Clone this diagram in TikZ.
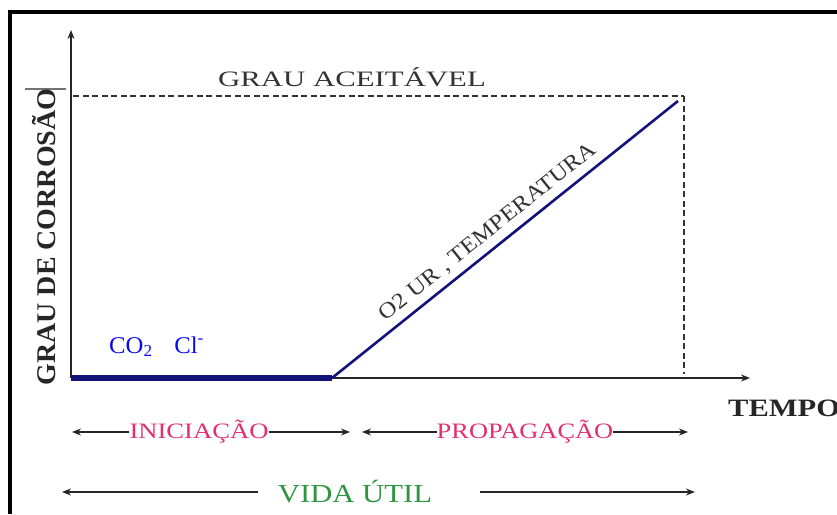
\documentclass[tikz,border=0pt]{standalone}
\usepackage{fontspec}
\setmainfont{Liberation Serif}
\usetikzlibrary{arrows.meta,positioning}
\definecolor{curvenavy}{HTML}{12127A}
\definecolor{agentblue}{HTML}{0A0AF0}
\definecolor{phasepink}{HTML}{E2306E}
\definecolor{lifegreen}{HTML}{2F9440}
\definecolor{labelgray}{HTML}{333333}
% the original lettering is set wide
\newcommand{\wide}[2]{\scalebox{#1}[1]{#2}}

\begin{document}
\begin{tikzpicture}[
  x=1pt, y=-1pt,
  >={Stealth[length=9pt, width=7pt]},
  frame/.style={line width=4pt, black},
  axis/.style={->, line width=2pt, black!85},
  limit/.style={dashed, dash pattern=on 6pt off 3.5pt, line width=1.1pt, black!80},
  slow/.style={line width=6pt, curvenavy},
  fast/.style={line width=2.6pt, curvenavy},
  span/.style={->, line width=1.4pt, black!85},
  axlbl/.style={font=\fontsize{27}{30}\selectfont\bfseries, text=black!85, inner sep=0pt},
  phase/.style={font=\fontsize{22}{24}\selectfont, inner sep=0pt},
  note/.style={font=\fontsize{22}{24}\selectfont, text=labelgray, inner sep=0pt},
]
\useasboundingbox (0,0) rectangle (837,514);

% ---- frame ----
\coordinate (fTR) at (837,12);
\coordinate (fTL) at (10,12);
\coordinate (fBL) at (10,514);
\draw[frame] (fTR) -- (fTL) -- (fBL);

% ---- axes ----
\coordinate (O)    at (71,378);
\coordinate (ytip) at (71,30);
\coordinate (xtip) at (750,378);
\draw[axis] (O) -- (ytip);
\draw[axis] (O) -- (xtip);

% ---- acceptable level ----
\coordinate (tickL) at (25,89);
\coordinate (tickR) at (66,89);
\draw[line width=1.2pt, black!55] (tickL) -- (tickR);
\coordinate (lim0)    at (73,96);
\coordinate (lim1)    at (684,96);
\coordinate (limfoot) at (684,374);
\draw[limit] (lim0) -- (lim1);
\draw[limit] (lim1) -- (limfoot);
\node[note] (aceit) at (352,77) {\wide{1.4}{GRAU ACEITÁVEL}};

% ---- corrosion curve ----
\coordinate (knee) at (332,378);
\coordinate (peak) at (678,101);
\draw[slow] (O) -- (knee);
\draw[fast] (knee) -- node[note, sloped, above=6pt, pos=0.48] (fatores)
      {\wide{1.13}{O2 UR , TEMPERATURA}} (peak);
\node[font=\fontsize{24}{26}\selectfont, text=agentblue, inner sep=0pt, anchor=base west]
      (agentes) at (109,353) {\wide{1.03}{CO\textsubscript{2}\hspace{21pt}Cl\textsuperscript{-}}};

% ---- axis labels ----
\node[axlbl, rotate=90] (ylab) at (44,237) {\wide{1.035}{GRAU DE CORROSÃO}};
\node[axlbl, anchor=west, font=\fontsize{25}{28}\selectfont\bfseries] (tempo) at (728,408)
      {\wide{1.22}{TEMPO}};

% ---- stages ----
\node[phase, text=phasepink] (inic) at (199,432) {\wide{1.21}{INICIAÇÃO}};
\node[phase, text=phasepink] (prop) at (525,432) {\wide{1.2}{PROPAGAÇÃO}};
\coordinate (inicL) at (72,432);
\coordinate (inicR) at (350,432);
\coordinate (propL) at (362,432);
\coordinate (propR) at (688,432);
\draw[span] (inic.west) -- (inicL);
\draw[span] (inic.east) -- (inicR);
\draw[span] (prop.west) -- (propL);
\draw[span] (prop.east) -- (propR);

% ---- service life ----
\node[phase, text=lifegreen, font=\fontsize{26}{28}\selectfont] (vida) at (355,492)
      {\wide{1.18}{VIDA ÚTIL}};
\coordinate (vidaL) at (62,492);
\coordinate (vidaR) at (695,492);
\draw[span] ([xshift=-20pt]vida.west) -- (vidaL);
\draw[span] ([xshift=48pt]vida.east) -- (vidaR);
\end{tikzpicture}
\end{document}
